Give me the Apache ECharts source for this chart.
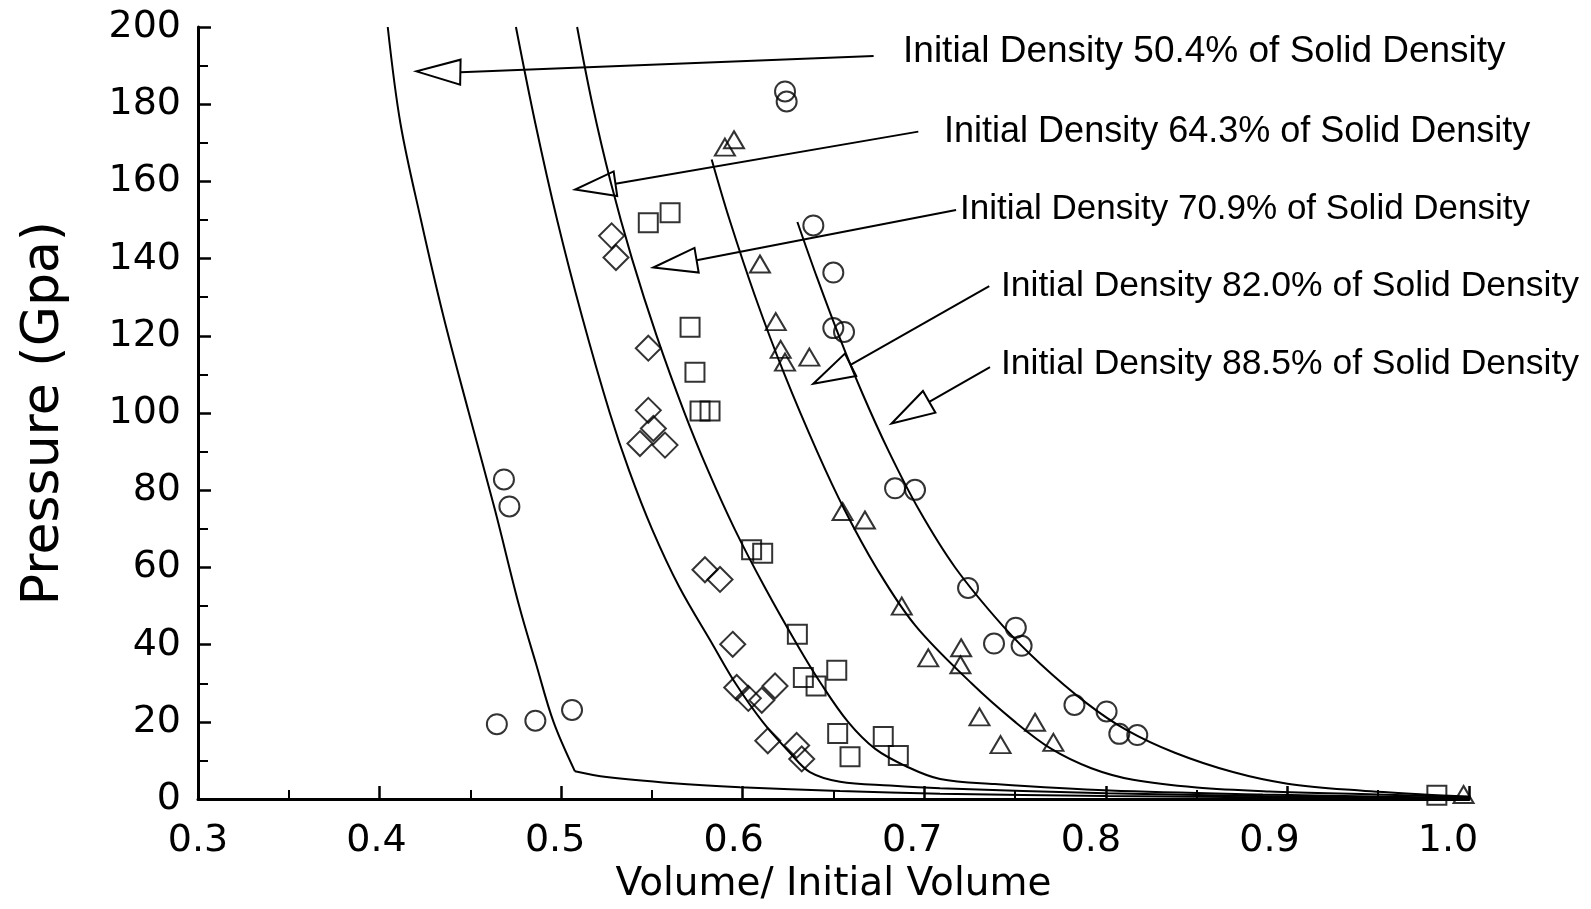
<!DOCTYPE html>
<html>
<head>
<meta charset="utf-8">
<script src="https://cdn.jsdelivr.net/npm/echarts@6/dist/echarts.min.js"></script>
<style>
  html, body { margin: 0; padding: 0; background: #fff; }
  #chart { width: 1591px; height: 909px; }
</style>
</head>
<body>
<div id="chart"></div>
<script>
// computed curves, one per initial density  [V/V0, pressure GPa]
const curve504 = [[0.4045,200],[0.4115,175],[0.4228,150],[0.4352,125],[0.4492,100],[0.4635,75],[0.4769,50],[0.4862,35],[0.4958,20],[0.5076,7.2]];
const curve504Tail = [[0.5076,7.2],[0.525,5.7],[0.5617,4.1],[0.5985,3.1],[0.6536,2.1],[0.7087,1.4],[0.8,0.8],[0.9,0.4],[1.0,0.1]];
const curve643 = [[0.4751,200],[0.4858,175],[0.4978,150],[0.5115,125],[0.5268,100],[0.5375,85],[0.55,70],[0.565,55],[0.5835,40],[0.596,30],[0.611,20],[0.626,12],[0.637,7],[0.6536,4.5],[0.6811,3.5],[0.7087,2.8],[0.8,1.5],[0.9,0.7],[1.0,0.2]];
const curve709 = [[0.5088,200],[0.5172,180],[0.5272,160],[0.539,140],[0.5526,120],[0.568,100],[0.581,85],[0.5955,70],[0.612,55],[0.63,40],[0.643,30],[0.658,20],[0.673,13],[0.69,8.5],[0.7087,5.2],[0.7388,3.9],[0.8021,2.2],[0.8864,1.2],[1.0,0.3]];
const curve820 = [[0.5829,165.7],[0.5928,150],[0.607,130],[0.623,110],[0.641,90],[0.656,75],[0.6735,60],[0.695,45],[0.726,30],[0.75,20],[0.77,13],[0.792,8],[0.815,5],[0.85,3],[0.89,2],[0.9496,1.2],[1.0,0.5]];
const curve885 = [[0.6301,149.5],[0.641,135],[0.653,120],[0.666,105],[0.6805,90],[0.697,75],[0.717,60],[0.743,45],[0.764,35],[0.789,25],[0.811,18],[0.838,12],[0.87,7],[0.9,4],[0.94,2.2],[0.975,1.2],[1.0,0.7]];

// measured points
const circles504 = [[0.4685,82.8],[0.4715,75.8],[0.4646,19.4],[0.4858,20.3],[0.506,23.1]];
const diamonds643 = [[0.5278,145.9],[0.5302,140.3],[0.548,116.8],[0.548,100.7],[0.5434,92.1],[0.5508,96],[0.5572,91.7],[0.5792,59.4],[0.5875,56.9],[0.5945,40.1],[0.5967,28.9],[0.6031,26.1],[0.6105,25.6],[0.6178,29.3],[0.6138,15.1],[0.6297,13.9],[0.6325,10.4]];
const squares709 = [[0.548,149.3],[0.56,151.9],[0.571,122.2],[0.5737,110.6],[0.5765,100.5],[0.582,100.5],[0.6049,64.6],[0.611,63.7],[0.6301,42.7],[0.6334,31.5],[0.6404,29.3],[0.6518,33.4],[0.6523,17],[0.6591,11],[0.6774,16.2],[0.6857,11.3],[0.9823,1.0]];
const triangles820 = [[0.5902,168.9],[0.5952,170.8],[0.6095,138.6],[0.6182,123.7],[0.6209,116.5],[0.6233,113.2],[0.6367,114.5],[0.655,74.5],[0.6673,72.3],[0.6876,50],[0.7022,36.6],[0.7203,39.2],[0.7199,34.8],[0.7304,21.3],[0.742,14.1],[0.761,19.9],[0.7711,14.7],[0.997,1.2]];
const circles885 = [[0.6233,183.3],[0.6242,180.7],[0.6389,148.6],[0.6499,136.4],[0.6499,122],[0.6558,121],[0.6839,80.5],[0.6949,80.1],[0.7241,54.7],[0.7504,44.4],[0.7384,40.3],[0.7536,39.7],[0.7827,24.4],[0.8004,22.7],[0.8074,16.9],[0.8173,16.6]];

// callouts: arrow tip, arrow base, leader end, text anchor
const labelTexts = [
  'Initial Density 50.4% of Solid Density',
  'Initial Density 64.3% of Solid Density',
  'Initial Density 70.9% of Solid Density',
  'Initial Density 82.0% of Solid Density',
  'Initial Density 88.5% of Solid Density'
];
const arrowTips = [[0.4203,188.5],[0.5077,157.9],[0.5508,137.7],[0.6389,107.6],[0.682,97.3]];
const arrowBases = [[0.4445,188.3],[0.5299,159.4],[0.5746,139.6],[0.6594,112.5],[0.7027,102.9]];
const leaderEnds = [[0.6721,192.5],[0.6967,172.9],[0.7175,152.6],[0.7358,132.9],[0.7362,111.9]];
const textAnchors = [[0.6883,193.7],[0.7109,172.9],[0.7197,152.8],[0.7422,132.9],[0.7422,112.7]];

const calloutRows = labelTexts.map((t, i) => [
  arrowTips[i][0], arrowTips[i][1],
  arrowBases[i][0], arrowBases[i][1],
  leaderEnds[i][0], leaderEnds[i][1],
  textAnchors[i][0], textAnchors[i][1]
]);

const AXIS_FONT = '"DejaVu Sans", sans-serif';
const HEAD_HALF = 12.5;
// the scanned label fonts differ a little in width
const calloutFontSize = [37, 36, 35, 35.5, 35.5];
// x tick labels in the scan drift left of their ticks towards the right end (px)
const xLabelShift = [0, -3, -6, -9, -12, -15, -18, -21];

const xLabelRich = {};
xLabelShift.forEach((s, k) => {
  xLabelRich['s' + k] = {
    fontFamily: AXIS_FONT,
    fontSize: 38,
    color: '#000',
    padding: s >= 0 ? [0, 0, 0, 2 * s] : [0, -2 * s, 0, 0]
  };
});

const renderCallout = (params, api) => {
  const i = params.dataIndex;
  const tip = api.coord([api.value(0), api.value(1)]);
  const base = api.coord([api.value(2), api.value(3)]);
  const end = api.coord([api.value(4), api.value(5)]);
  const txt = api.coord([api.value(6), api.value(7)]);
  const dx = base[0] - tip[0];
  const dy = base[1] - tip[1];
  const len = Math.sqrt(dx * dx + dy * dy) || 1;
  const nx = -dy / len * HEAD_HALF;
  const ny = dx / len * HEAD_HALF;
  return {
    type: 'group',
    children: [
      {
        type: 'polyline',
        shape: { points: [base, end] },
        style: { stroke: '#000', lineWidth: 2, fill: null }
      },
      {
        type: 'polygon',
        shape: { points: [tip, [base[0] + nx, base[1] + ny], [base[0] - nx, base[1] - ny]] },
        style: { stroke: '#000', lineWidth: 2, fill: 'rgba(0,0,0,0)' }
      },
      {
        type: 'text',
        style: {
          text: labelTexts[i],
          x: txt[0],
          y: txt[1],
          fill: '#000',
          font: calloutFontSize[i] + 'px "Liberation Sans", sans-serif',
          align: 'left',
          verticalAlign: 'middle'
        }
      }
    ]
  };
};

const lineSeries = (name, data) => ({
  name: name,
  type: 'line',
  data: data,
  showSymbol: false,
  symbol: 'none',
  smooth: 0.35,
  lineStyle: { color: '#000', width: 2 },
  z: 2
});

const markerStyle = { color: 'rgba(0,0,0,0)', borderColor: '#000', borderWidth: 2 };
const scatterSeries = (name, data, symbol, size) => ({
  name: name,
  type: 'scatter',
  data: data,
  symbol: symbol,
  symbolSize: size,
  itemStyle: markerStyle,
  z: 3
});

const chart = echarts.init(document.getElementById('chart'), null, { renderer: 'canvas' });

chart.setOption({
  backgroundColor: '#fff',
  animation: false,
  grid: { left: 198, right: 122, top: 27, bottom: 106 },
  xAxis: {
    type: 'value',
    min: 0.3,
    max: 1.0,
    interval: 0.1,
    name: 'Volume/ Initial Volume',
    nameLocation: 'middle',
    nameGap: 64,
    nameTextStyle: { fontFamily: AXIS_FONT, fontSize: 39, color: '#000' },
    axisLine: { lineStyle: { color: '#000', width: 3 } },
    axisTick: { inside: true, length: 13, lineStyle: { color: '#000', width: 2.5 } },
    minorTick: { show: true, splitNumber: 2, length: 9, lineStyle: { color: '#000', width: 2 } },
    splitLine: { show: false },
    axisLabel: {
      margin: 23,
      color: '#000',
      fontFamily: AXIS_FONT,
      fontSize: 38,
      rich: xLabelRich,
      formatter: v => {
        const k = Math.round((v - 0.3) * 10);
        return '{s' + k + '|' + v.toFixed(1) + '}';
      }
    }
  },
  yAxis: {
    type: 'value',
    min: 0,
    max: 200,
    interval: 20,
    name: 'Pressure (Gpa)',
    nameLocation: 'middle',
    nameGap: 128,
    nameTextStyle: { fontFamily: AXIS_FONT, fontSize: 52, color: '#000' },
    axisLine: { show: true, lineStyle: { color: '#000', width: 3 } },
    axisTick: { show: true, inside: true, length: 13, lineStyle: { color: '#000', width: 2.5 } },
    minorTick: { show: true, splitNumber: 2, length: 10, lineStyle: { color: '#000', width: 2 } },
    splitLine: { show: false },
    axisLabel: { margin: 17, color: '#000', fontFamily: AXIS_FONT, fontSize: 38 }
  },
  series: [
    lineSeries('50.4%', curve504),
    lineSeries('50.4% tail', curve504Tail),
    lineSeries('64.3%', curve643),
    lineSeries('70.9%', curve709),
    lineSeries('82.0%', curve820),
    lineSeries('88.5%', curve885),
    scatterSeries('50.4% data', circles504, 'circle', 20),
    scatterSeries('64.3% data', diamonds643, 'diamond', [25, 25]),
    scatterSeries('70.9% data', squares709, 'rect', 19),
    scatterSeries('82.0% data', triangles820, 'triangle', [20, 17]),
    scatterSeries('88.5% data', circles885, 'circle', 20),
    {
      name: 'callouts',
      type: 'custom',
      data: calloutRows,
      encode: { x: [0, 2, 4, 6], y: [1, 3, 5, 7] },
      renderItem: renderCallout,
      clip: false,
      z: 4
    }
  ]
});

window.addEventListener('resize', () => chart.resize());
</script>
</body>
</html>
